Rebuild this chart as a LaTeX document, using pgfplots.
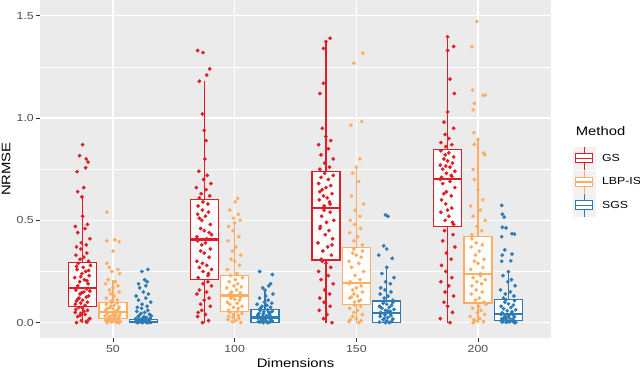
\documentclass[border=0pt]{standalone}
\usepackage{fontspec}
\setmainfont{Liberation Sans}[FakeStretch=1.2]
\usepackage{pgfplots}
\usepackage{pgfplotstable}
\pgfplotsset{compat=1.18}
\usepgfplotslibrary{statistics}

\definecolor{gsred}{HTML}{DE1F26}
\definecolor{lbporange}{HTML}{FDAE61}
\definecolor{sgsblue}{HTML}{2C7BB6}
\definecolor{panelgrey}{HTML}{EBEBEB}
\definecolor{keygrey}{HTML}{F2F2F2}
\definecolor{tickgrey}{HTML}{333333}
\definecolor{labgrey}{HTML}{4D4D4D}

% jittered points: j = horizontal jitter, v = NRMSE
% GS
\pgfplotstableread[row sep=\\]{
j v\\
-0.05 0.000\\ 0.03 0.005\\ -0.01 0.010\\ 0.06 0.020\\ -0.04 0.030\\ 0.02 0.040\\ -0.06 0.050\\ 0.04 0.060\\
0.00 0.070\\ -0.03 0.075\\ 0.05 0.015\\ -0.02 0.035\\ 0.01 0.055\\ -0.055 0.065\\ 0.035 0.002\\ -0.015 0.045\\
0.02 0.085\\ -0.06 0.090\\ 0.04 0.100\\ 0.00 0.110\\ -0.03 0.120\\ 0.05 0.130\\ -0.02 0.140\\ 0.01 0.150\\
-0.055 0.160\\ 0.035 0.165\\ -0.015 0.095\\ -0.05 0.105\\ 0.03 0.125\\ -0.01 0.145\\ 0.06 0.155\\ -0.04 0.115\\
-0.04 0.180\\ 0.045 0.190\\ -0.025 0.200\\ 0.015 0.210\\ -0.065 0.220\\ 0.055 0.230\\ -0.005 0.240\\ 0.025 0.250\\
-0.045 0.260\\ 0.005 0.270\\ 0.065 0.280\\ -0.035 0.290\\ 0.035 0.205\\ -0.015 0.225\\ 0.05 0.255\\ -0.05 0.275\\
0.05 0.300\\ -0.02 0.310\\ 0.01 0.320\\ -0.055 0.330\\ 0.035 0.340\\ -0.015 0.360\\ -0.05 0.370\\ 0.03 0.380\\
-0.01 0.390\\ 0.06 0.410\\ -0.04 0.440\\ 0.02 0.460\\ -0.06 0.470\\ 0.04 0.480\\ 0.00 0.520\\ -0.005 0.615\\
0.00 0.870\\ -0.025 0.816\\ 0.03 0.800\\ 0.045 0.785\\ 0.025 0.757\\ -0.045 0.738\\ 0.01 0.660\\ -0.04 0.640\\
}\gsA
\pgfplotstableread[row sep=\\]{
j v\\
-0.015 0.000\\ 0.035 0.010\\ -0.055 0.030\\ 0.01 0.040\\ -0.02 0.060\\ 0.05 0.080\\ -0.03 0.090\\ 0.00 0.110\\
0.04 0.120\\ -0.06 0.140\\ 0.02 0.150\\ -0.04 0.160\\ 0.06 0.180\\ -0.01 0.190\\ 0.03 0.200\\ -0.05 0.050\\
-0.05 0.220\\ 0.03 0.230\\ -0.01 0.250\\ 0.06 0.260\\ -0.04 0.270\\ 0.02 0.280\\ -0.06 0.300\\ 0.04 0.320\\
0.00 0.340\\ -0.03 0.350\\ 0.05 0.360\\ -0.02 0.380\\ 0.01 0.390\\ -0.055 0.400\\ 0.035 0.240\\ -0.015 0.290\\
0.02 0.410\\ -0.06 0.420\\ 0.04 0.440\\ 0.00 0.450\\ -0.03 0.460\\ 0.05 0.480\\ -0.02 0.500\\ 0.01 0.520\\
-0.055 0.530\\ 0.035 0.540\\ -0.015 0.550\\ -0.05 0.570\\ 0.03 0.580\\ -0.01 0.590\\ 0.06 0.430\\ -0.04 0.510\\
-0.04 0.610\\ 0.045 0.620\\ -0.025 0.630\\ 0.015 0.650\\ -0.065 0.660\\ 0.055 0.680\\ -0.005 0.700\\ 0.025 0.720\\
-0.045 0.740\\ 0.005 0.800\\ 0.015 0.890\\ 0.00 0.940\\ -0.015 1.020\\ -0.04 1.180\\
-0.055 1.330\\ -0.01 1.320\\ 0.045 1.240\\ 0.02 1.210\\
}\gsB
\pgfplotstableread[row sep=\\]{
j v\\
0.05 0.000\\ -0.02 0.020\\ 0.01 0.040\\ -0.055 0.060\\ 0.035 0.080\\ -0.015 0.100\\ -0.05 0.120\\ 0.03 0.140\\
-0.01 0.160\\ 0.06 0.190\\ -0.04 0.210\\ 0.02 0.230\\ -0.06 0.250\\ 0.04 0.270\\ 0.00 0.290\\ -0.03 0.300\\
-0.04 0.310\\ 0.045 0.330\\ -0.025 0.350\\ 0.015 0.370\\ -0.065 0.390\\ 0.055 0.410\\ -0.005 0.430\\ 0.025 0.450\\
-0.045 0.470\\ 0.005 0.490\\ 0.065 0.500\\ -0.035 0.520\\ 0.035 0.540\\ -0.015 0.550\\ 0.05 0.380\\ -0.05 0.460\\
-0.015 0.570\\ 0.035 0.580\\ -0.055 0.600\\ 0.01 0.610\\ -0.02 0.620\\ 0.05 0.630\\ -0.03 0.650\\ 0.00 0.660\\
0.04 0.670\\ -0.06 0.680\\ 0.02 0.700\\ -0.04 0.710\\ 0.06 0.720\\ -0.01 0.730\\ 0.03 0.590\\ -0.05 0.640\\
-0.05 0.750\\ 0.03 0.760\\ -0.01 0.780\\ 0.06 0.800\\ -0.04 0.820\\ 0.02 0.850\\ -0.06 0.870\\ 0.04 0.890\\
0.00 0.910\\ -0.03 0.950\\ -0.05 1.120\\ -0.02 1.170\\ -0.02 1.340\\ 0.00 1.374\\ 0.035 1.390\\
}\gsC
\pgfplotstableread[row sep=\\]{
j v\\
0.02 0.000\\ -0.06 0.020\\ 0.04 0.050\\ 0.00 0.080\\ -0.03 0.100\\ 0.05 0.130\\ -0.02 0.150\\ 0.01 0.180\\
-0.055 0.200\\ 0.035 0.220\\ -0.015 0.250\\ -0.05 0.280\\ 0.03 0.310\\ -0.01 0.340\\ 0.06 0.370\\ -0.04 0.400\\
0.045 0.430\\ -0.025 0.450\\
0.05 0.480\\ -0.02 0.500\\ 0.01 0.520\\ -0.055 0.540\\ 0.035 0.560\\ -0.015 0.580\\ -0.05 0.600\\ 0.03 0.620\\
-0.01 0.640\\ 0.06 0.660\\ -0.04 0.680\\ 0.02 0.690\\ -0.06 0.700\\ 0.04 0.490\\ 0.00 0.550\\ -0.03 0.630\\
-0.05 0.710\\ 0.03 0.720\\ -0.01 0.730\\ 0.06 0.740\\ -0.04 0.750\\ 0.02 0.760\\ -0.06 0.770\\ 0.04 0.780\\
0.00 0.790\\ -0.03 0.800\\ 0.05 0.810\\ -0.02 0.820\\ 0.01 0.830\\ -0.055 0.840\\ 0.035 0.715\\ -0.015 0.765\\
-0.015 0.860\\ 0.035 0.870\\ -0.055 0.880\\ 0.01 0.900\\ -0.02 0.920\\ 0.05 0.950\\ -0.03 0.980\\ 0.00 1.030\\
0.055 1.120\\ 0.02 1.190\\ 0.00 1.330\\ 0.05 1.350\\ 0.00 1.397\\
}\gsD
% LBP-IS
\pgfplotstableread[row sep=\\]{
j v\\
-0.05 0.000\\ 0.03 0.001\\ -0.01 0.003\\ 0.06 0.005\\ -0.04 0.007\\ 0.02 0.010\\ -0.06 0.012\\ 0.04 0.015\\
0.00 0.017\\ -0.03 0.019\\ 0.05 0.000\\ -0.02 0.008\\
-0.04 0.022\\ 0.045 0.025\\ -0.025 0.028\\ 0.015 0.030\\ -0.065 0.033\\ 0.055 0.036\\ -0.005 0.039\\ 0.025 0.042\\
-0.045 0.045\\ 0.005 0.048\\ 0.065 0.050\\ -0.035 0.027\\
0.02 0.055\\ -0.06 0.060\\ 0.04 0.064\\ 0.00 0.068\\ -0.03 0.072\\ 0.05 0.076\\ -0.02 0.080\\ 0.01 0.085\\
-0.055 0.090\\ 0.035 0.095\\ -0.015 0.098\\ -0.05 0.070\\
-0.015 0.105\\ 0.035 0.110\\ -0.055 0.120\\ 0.01 0.130\\ -0.02 0.140\\ 0.05 0.150\\ -0.03 0.160\\ 0.00 0.170\\
0.04 0.180\\ -0.06 0.190\\ 0.02 0.200\\ -0.04 0.210\\
-0.05 0.540\\ -0.05 0.400\\ 0.015 0.405\\ 0.05 0.395\\ 0.00 0.350\\ -0.05 0.290\\ -0.03 0.270\\ 0.04 0.260\\
-0.01 0.250\\ 0.055 0.240\\
}\lbA
\pgfplotstableread[row sep=\\]{
j v\\
0.05 0.000\\ -0.02 0.005\\ 0.01 0.010\\ -0.055 0.015\\ 0.035 0.020\\ -0.015 0.025\\ -0.05 0.030\\ 0.03 0.035\\
-0.01 0.040\\ 0.06 0.045\\ -0.04 0.050\\ 0.02 0.055\\
-0.05 0.060\\ 0.03 0.070\\ -0.01 0.075\\ 0.06 0.080\\ -0.04 0.090\\ 0.02 0.095\\ -0.06 0.100\\ 0.04 0.110\\
0.00 0.115\\ -0.03 0.120\\ 0.05 0.125\\ -0.02 0.130\\
-0.04 0.140\\ 0.045 0.145\\ -0.025 0.150\\ 0.015 0.160\\ -0.065 0.170\\ 0.055 0.175\\ -0.005 0.180\\ 0.025 0.190\\
-0.045 0.200\\ 0.005 0.210\\ 0.065 0.220\\ -0.035 0.230\\
0.02 0.240\\ -0.06 0.260\\ 0.04 0.280\\ 0.00 0.300\\ -0.03 0.310\\ 0.05 0.330\\ -0.02 0.350\\ 0.01 0.370\\
-0.055 0.400\\ 0.035 0.420\\ -0.015 0.450\\ -0.05 0.470\\ 0.00 0.487\\
0.025 0.607\\ 0.005 0.590\\ -0.04 0.550\\ 0.03 0.530\\ -0.01 0.510\\ 0.045 0.500\\
}\lbB
\pgfplotstableread[row sep=\\]{
j v\\
0.02 0.000\\ -0.06 0.005\\ 0.04 0.010\\ 0.00 0.020\\ -0.03 0.030\\ 0.05 0.040\\ -0.02 0.050\\ 0.01 0.060\\
-0.055 0.070\\ 0.035 0.080\\ -0.015 0.085\\ -0.05 0.015\\
-0.015 0.100\\ 0.035 0.110\\ -0.055 0.120\\ 0.01 0.130\\ -0.02 0.140\\ 0.05 0.150\\ -0.03 0.160\\ 0.00 0.170\\
0.04 0.180\\ -0.06 0.190\\ 0.02 0.105\\ -0.04 0.125\\
-0.05 0.200\\ 0.03 0.210\\ -0.01 0.230\\ 0.06 0.250\\ -0.04 0.270\\ 0.02 0.290\\ -0.06 0.300\\ 0.04 0.320\\
0.00 0.330\\ -0.03 0.340\\ 0.05 0.350\\ -0.02 0.360\\
0.05 0.380\\ -0.02 0.400\\ 0.01 0.420\\ -0.055 0.440\\ 0.035 0.460\\ -0.015 0.480\\ -0.05 0.500\\ 0.03 0.520\\
-0.01 0.550\\ 0.06 0.580\\ -0.04 0.620\\ 0.02 0.690\\ -0.03 0.730\\ 0.00 0.760\\
0.03 0.800\\ -0.045 0.965\\ 0.045 0.983\\ -0.02 1.268\\ 0.054 1.317\\
}\lbC
\pgfplotstableread[row sep=\\]{
j v\\
-0.04 0.000\\ 0.045 0.005\\ -0.025 0.010\\ 0.015 0.020\\ -0.065 0.030\\ 0.055 0.040\\ -0.005 0.050\\ 0.025 0.060\\
-0.045 0.070\\ 0.005 0.080\\ 0.065 0.090\\ -0.035 0.015\\
0.05 0.100\\ -0.02 0.110\\ 0.01 0.120\\ -0.055 0.140\\ 0.035 0.150\\ -0.015 0.160\\ -0.05 0.180\\ 0.03 0.190\\
-0.01 0.200\\ 0.06 0.210\\ -0.04 0.220\\ 0.02 0.230\\
0.02 0.240\\ -0.06 0.260\\ 0.04 0.270\\ 0.00 0.290\\ -0.03 0.300\\ 0.05 0.310\\ -0.02 0.330\\ 0.01 0.350\\
-0.055 0.370\\ 0.035 0.380\\ -0.015 0.390\\ -0.05 0.410\\
-0.05 0.430\\ 0.03 0.450\\ -0.01 0.470\\ 0.06 0.500\\ -0.04 0.520\\ 0.02 0.550\\ -0.06 0.570\\ 0.04 0.600\\
0.00 0.650\\ -0.03 0.700\\ -0.04 0.748\\ 0.055 0.820\\ 0.045 0.830\\ -0.03 0.871\\ 0.00 0.896\\
-0.035 0.929\\ -0.04 1.040\\ -0.03 1.071\\ 0.04 1.110\\ 0.06 1.113\\ -0.045 1.137\\ -0.05 1.349\\ -0.01 1.472\\
}\lbD
% SGS
\pgfplotstableread[row sep=\\]{
j v\\
-0.05 0.000\\ 0.03 0.000\\ -0.01 0.000\\ 0.06 0.001\\ -0.04 0.002\\ 0.02 0.003\\ -0.06 0.004\\ 0.04 0.005\\
0.00 0.005\\ -0.03 0.006\\ 0.05 0.007\\ -0.02 0.008\\ 0.01 0.009\\ -0.055 0.010\\ 0.035 0.011\\ -0.015 0.012\\
-0.04 0.013\\ 0.045 0.014\\ -0.025 0.015\\ 0.015 0.016\\ -0.065 0.018\\ 0.055 0.020\\ -0.005 0.022\\ 0.025 0.025\\
-0.045 0.028\\ 0.005 0.030\\ 0.065 0.033\\ -0.035 0.035\\ 0.035 0.001\\ -0.015 0.002\\ 0.05 0.003\\ -0.05 0.004\\
0.02 0.006\\ -0.06 0.007\\ 0.04 0.008\\ 0.00 0.010\\ -0.03 0.012\\ 0.05 0.014\\
0.05 0.040\\ -0.02 0.045\\ 0.01 0.050\\ -0.055 0.055\\ 0.035 0.060\\ -0.015 0.070\\ -0.05 0.075\\ 0.03 0.080\\
-0.01 0.090\\ 0.06 0.100\\ -0.04 0.110\\ 0.02 0.120\\ -0.06 0.130\\ 0.04 0.140\\ 0.00 0.150\\ -0.03 0.170\\
0.02 0.180\\ -0.04 0.190\\ 0.03 0.200\\ 0.01 0.210\\ -0.013 0.250\\ 0.036 0.260\\
}\sgA
\pgfplotstableread[row sep=\\]{
j v\\
-0.015 0.000\\ 0.035 0.002\\ -0.055 0.005\\ 0.01 0.008\\ -0.02 0.010\\ 0.05 0.012\\ -0.03 0.015\\ 0.00 0.018\\
0.04 0.020\\ -0.06 0.022\\ 0.02 0.000\\ -0.04 0.004\\ 0.06 0.007\\ -0.01 0.013\\
0.05 0.028\\ -0.02 0.030\\ 0.01 0.033\\ -0.055 0.036\\ 0.035 0.040\\ -0.015 0.043\\ -0.05 0.046\\ 0.03 0.050\\
-0.01 0.053\\ 0.06 0.056\\ -0.04 0.060\\ 0.02 0.062\\ -0.06 0.038\\ 0.04 0.048\\
-0.04 0.070\\ 0.045 0.075\\ -0.025 0.080\\ 0.015 0.085\\ -0.065 0.090\\ 0.055 0.095\\ -0.005 0.100\\ 0.025 0.110\\
-0.045 0.120\\ 0.005 0.130\\ 0.065 0.140\\ 0.00 0.159\\
-0.02 0.170\\ 0.03 0.180\\ 0.045 0.190\\ 0.06 0.235\\ -0.045 0.250\\
}\sgB
\pgfplotstableread[row sep=\\]{
j v\\
0.02 0.000\\ -0.06 0.003\\ 0.04 0.006\\ 0.00 0.010\\ -0.03 0.014\\ 0.05 0.018\\ -0.02 0.022\\ 0.01 0.026\\
-0.055 0.030\\ 0.035 0.034\\ -0.015 0.038\\ -0.05 0.042\\ 0.03 0.045\\ -0.01 0.000\\
-0.05 0.050\\ 0.03 0.055\\ -0.01 0.060\\ 0.06 0.065\\ -0.04 0.070\\ 0.02 0.075\\ -0.06 0.080\\ 0.04 0.085\\
0.00 0.090\\ -0.03 0.095\\ 0.05 0.100\\ -0.02 0.104\\ 0.01 0.058\\ -0.055 0.078\\
0.05 0.110\\ -0.02 0.120\\ 0.01 0.130\\ -0.055 0.140\\ 0.035 0.150\\ -0.015 0.160\\ -0.05 0.170\\ 0.03 0.190\\
-0.01 0.200\\ 0.06 0.220\\ -0.04 0.240\\ 0.00 0.270\\
0.045 0.314\\ -0.065 0.330\\ 0.00 0.360\\ -0.025 0.375\\ 0.01 0.520\\ -0.01 0.527\\
}\sgC
\pgfplotstableread[row sep=\\]{
j v\\
0.05 0.000\\ -0.02 0.002\\ 0.01 0.004\\ -0.055 0.006\\ 0.035 0.008\\ -0.015 0.010\\ -0.05 0.003\\ 0.03 0.009\\
-0.01 0.005\\ 0.06 0.001\\
-0.015 0.013\\ 0.035 0.016\\ -0.055 0.019\\ 0.01 0.022\\ -0.02 0.025\\ 0.05 0.028\\ -0.03 0.031\\ 0.00 0.034\\
0.04 0.037\\ -0.06 0.040\\ 0.02 0.043\\ -0.04 0.020\\
-0.05 0.048\\ 0.03 0.053\\ -0.01 0.058\\ 0.06 0.063\\ -0.04 0.068\\ 0.02 0.074\\ -0.06 0.080\\ 0.04 0.086\\
0.00 0.092\\ -0.03 0.100\\ 0.05 0.107\\ -0.02 0.112\\
-0.04 0.120\\ 0.045 0.130\\ -0.025 0.140\\ 0.015 0.150\\ -0.065 0.160\\ 0.055 0.180\\ -0.005 0.200\\ 0.025 0.210\\
-0.045 0.230\\ 0.00 0.249\\
-0.055 0.573\\ -0.05 0.530\\ -0.035 0.516\\ -0.05 0.466\\ -0.02 0.463\\ -0.055 0.420\\ 0.05 0.433\\ 0.03 0.435\\
-0.03 0.356\\ -0.05 0.330\\ 0.03 0.335\\ -0.055 0.300\\ 0.02 0.302\\
}\sgD

\pgfplotsset{
  bx/.style={draw=#1, fill=white, line width=1.2bp, solid, forget plot},
  jit/.style={only marks, color=#1, mark=*, mark size=1.7bp, mark options={solid, draw=none, fill=#1}, forget plot},
  key/.style={legend image code/.code={
      \fill[keygrey] (0bp,-11.2bp) rectangle (22.3bp,11.2bp);
      \draw[#1, line width=1.1bp] (11.15bp,-11.2bp) -- (11.15bp,11.2bp);
      \draw[#1, line width=1.1bp, fill=white] (3bp,-4.5bp) rectangle (19.6bp,4.5bp);
      \draw[#1, line width=1.6bp] (3bp,0bp) -- (19.6bp,0bp);}},
}

\begin{document}
\begin{tikzpicture}
\begin{axis}[
  scale only axis, width=511bp, height=338bp,
  xmin=0.4, xmax=4.6, ymin=-0.075, ymax=1.577,
  clip=false,
  axis background/.style={fill=panelgrey},
  axis line style={draw=none},
  xtick={1,2,3,4}, xticklabels={50,100,150,200},
  ytick={0,0.5,1,1.5}, yticklabels={0.0,0.5,1.0,1.5},
  minor ytick={0.25,0.75,1.25},
  xmajorgrids, ymajorgrids, yminorgrids,
  major grid style={white, line width=1.3bp},
  minor grid style={white, line width=0.65bp},
  tick align=outside, xtick pos=bottom, ytick pos=left,
  major tick length=3.5bp, minor tick length=0pt,
  tick style={tickgrey, line width=0.9bp},
  ticklabel style={font=\fontsize{10.3}{12}\selectfont, text=labgrey, inner sep=0pt},
  xticklabel style={anchor=north, yshift=-3.5bp},
  yticklabel style={anchor=east, xshift=-2.5bp},
  xlabel={Dimensions}, ylabel={NRMSE},
  label style={font=\fontsize{12.4}{14}\selectfont},
  xlabel style={at={(axis description cs:0.5,-0.0858)}, anchor=base},
  ylabel style={at={(axis description cs:-0.0661,0.5)}, anchor=center},
  boxplot/draw direction=y,
  boxplot/every median/.style={line width=2.2bp},
  legend style={at={(axis description cs:1.0425,0.566)}, anchor=north west,
    draw=none, fill=none, inner sep=0pt, outer sep=0pt, row sep=0pt,
    column sep=6.7bp, font=\fontsize{10.3}{12}\selectfont,
    nodes={inner sep=0pt}},
  legend cell align=left,
]
\addlegendimage{key=gsred}\addlegendentry{GS}
\addlegendimage{key=lbporange}\addlegendentry{LBP-IS}
\addlegendimage{key=sgsblue}\addlegendentry{SGS}

% boxes
\addplot[bx=gsred, boxplot prepared={draw position=0.75, lower whisker=0, lower quartile=0.080, median=0.170, upper quartile=0.295, upper whisker=0.615, box extend=0.23, whisker extend=0}] coordinates {};
\addplot[bx=gsred, boxplot prepared={draw position=1.75, lower whisker=0, lower quartile=0.211, median=0.406, upper quartile=0.601, upper whisker=1.180, box extend=0.23, whisker extend=0}] coordinates {};
\addplot[bx=gsred, boxplot prepared={draw position=2.75, lower whisker=0, lower quartile=0.306, median=0.560, upper quartile=0.737, upper whisker=1.374, box extend=0.23, whisker extend=0}] coordinates {};
\addplot[bx=gsred, boxplot prepared={draw position=3.75, lower whisker=0, lower quartile=0.470, median=0.704, upper quartile=0.847, upper whisker=1.397, box extend=0.23, whisker extend=0}] coordinates {};
\addplot[bx=lbporange, boxplot prepared={draw position=1, lower whisker=0, lower quartile=0.020, median=0.052, upper quartile=0.100, upper whisker=0.210, box extend=0.23, whisker extend=0}] coordinates {};
\addplot[bx=lbporange, boxplot prepared={draw position=2, lower whisker=0, lower quartile=0.056, median=0.133, upper quartile=0.232, upper whisker=0.487, box extend=0.23, whisker extend=0}] coordinates {};
\addplot[bx=lbporange, boxplot prepared={draw position=3, lower whisker=0, lower quartile=0.090, median=0.192, upper quartile=0.367, upper whisker=0.760, box extend=0.23, whisker extend=0}] coordinates {};
\addplot[bx=lbporange, boxplot prepared={draw position=4, lower whisker=0, lower quartile=0.096, median=0.236, upper quartile=0.420, upper whisker=0.896, box extend=0.23, whisker extend=0}] coordinates {};
\addplot[bx=sgsblue, boxplot prepared={draw position=1.25, lower whisker=0, lower quartile=0.000, median=0.005, upper quartile=0.015, upper whisker=0.035, box extend=0.23, whisker extend=0}] coordinates {};
\addplot[bx=sgsblue, boxplot prepared={draw position=2.25, lower whisker=0, lower quartile=0.000, median=0.025, upper quartile=0.064, upper whisker=0.159, box extend=0.23, whisker extend=0}] coordinates {};
\addplot[bx=sgsblue, boxplot prepared={draw position=3.25, lower whisker=0, lower quartile=0.000, median=0.047, upper quartile=0.106, upper whisker=0.270, box extend=0.23, whisker extend=0}] coordinates {};
\addplot[bx=sgsblue, boxplot prepared={draw position=4.25, lower whisker=0, lower quartile=0.011, median=0.044, upper quartile=0.113, upper whisker=0.249, box extend=0.23, whisker extend=0}] coordinates {};

% jittered points
\addplot[jit=gsred] table[x expr=\thisrow{j}+0.75, y=v] {\gsA};
\addplot[jit=gsred] table[x expr=\thisrow{j}+1.75, y=v] {\gsB};
\addplot[jit=gsred] table[x expr=\thisrow{j}+2.75, y=v] {\gsC};
\addplot[jit=gsred] table[x expr=\thisrow{j}+3.75, y=v] {\gsD};
\addplot[jit=lbporange] table[x expr=\thisrow{j}+1, y=v] {\lbA};
\addplot[jit=lbporange] table[x expr=\thisrow{j}+2, y=v] {\lbB};
\addplot[jit=lbporange] table[x expr=\thisrow{j}+3, y=v] {\lbC};
\addplot[jit=lbporange] table[x expr=\thisrow{j}+4, y=v] {\lbD};
\addplot[jit=sgsblue] table[x expr=\thisrow{j}+1.25, y=v] {\sgA};
\addplot[jit=sgsblue] table[x expr=\thisrow{j}+2.25, y=v] {\sgB};
\addplot[jit=sgsblue] table[x expr=\thisrow{j}+3.25, y=v] {\sgC};
\addplot[jit=sgsblue] table[x expr=\thisrow{j}+4.25, y=v] {\sgD};

\node[anchor=base west, font=\fontsize{12.4}{14}\selectfont] at (axis description cs:1.0417,0.5985) {Method};
\end{axis}
\pgfresetboundingbox
\path[use as bounding box] (-40bp,-31bp) rectangle (600bp,338bp);
\end{tikzpicture}
\end{document}
